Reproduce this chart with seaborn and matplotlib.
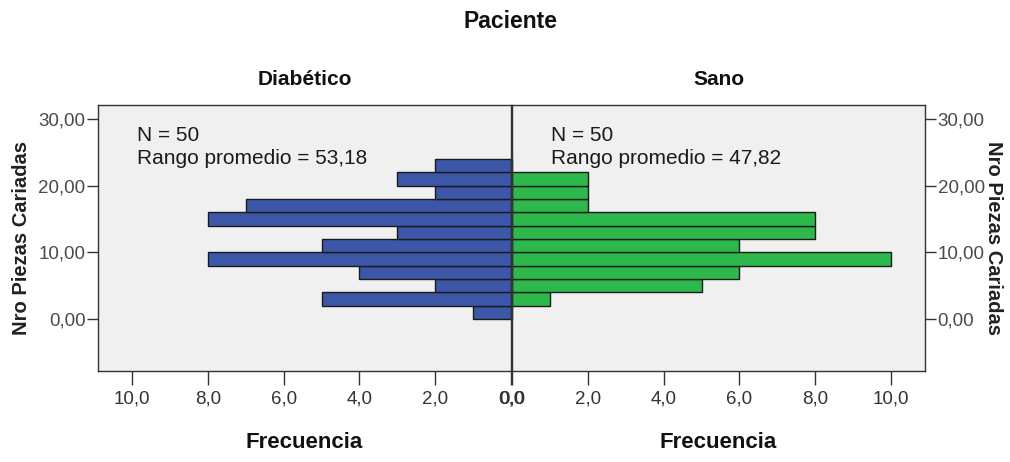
import numpy as np
import pandas as pd
import matplotlib
matplotlib.use("Agg")
import matplotlib.pyplot as plt
from matplotlib.ticker import FuncFormatter, FixedLocator
from matplotlib import font_manager
import seaborn as sns

# Histogram bins (lower edges, width 2) of "Nro Piezas Cariadas"
bin_lower = [0, 2, 4, 6, 8, 10, 12, 14, 16, 18, 20, 22]
diabetico_counts = [1, 5, 2, 4, 8, 5, 3, 8, 7, 2, 3, 2]
sano_counts = [0, 1, 5, 6, 10, 6, 8, 8, 2, 2, 2, 0]

groups = ["Diabético", "Sano"]
group_n = [50, 50]
rango_promedio = ["53,18", "47,82"]

x_ticks = [0, 2, 4, 6, 8, 10]
y_ticks = [0, 10, 20, 30]

sns.set_theme(style="white")
names = {f.name for f in font_manager.fontManager.ttflist}
narrow = "Liberation Sans Narrow" if "Liberation Sans Narrow" in names else "Liberation Sans"
plt.rcParams["font.family"] = ["Liberation Sans", "DejaVu Sans"]

BLUE = "#3c57a8"
GREEN = "#2db84b"
BG = "#f0f0f0"
EDGE = "#1a1a1a"

fig = plt.figure(figsize=(10.10, 4.62), dpi=100)
ax_l = fig.add_axes([0.097, 0.197, 0.409, 0.576])
ax_r = fig.add_axes([0.507, 0.197, 0.409, 0.576])

comma1 = FuncFormatter(lambda v, p: f"{v:.1f}".replace(".", ","))
comma2 = FuncFormatter(lambda v, p: f"{v:.2f}".replace(".", ","))

for ax, counts, color, name, n, rp in [
    (ax_l, diabetico_counts, BLUE, groups[0], group_n[0], rango_promedio[0]),
    (ax_r, sano_counts, GREEN, groups[1], group_n[1], rango_promedio[1]),
]:
    df = pd.DataFrame({"valor": np.array(bin_lower, dtype=float) + 1,
                       "frecuencia": counts})
    sns.histplot(data=df, y="valor", weights="frecuencia", binwidth=2,
                 binrange=(bin_lower[0], bin_lower[-1] + 2),
                 color=color, edgecolor=EDGE, linewidth=1.0, alpha=1.0, ax=ax)
    ax.set_facecolor(BG)
    ax.set_xlim(0, 10.9)
    ax.set_ylim(-7.8, 32.1)
    ax.xaxis.set_major_locator(FixedLocator(x_ticks))
    ax.yaxis.set_major_locator(FixedLocator(y_ticks))
    ax.xaxis.set_major_formatter(comma1)
    ax.yaxis.set_major_formatter(comma2)
    for s in ax.spines.values():
        s.set_color("#333333")
        s.set_linewidth(1.0)
    ax.tick_params(axis="x", which="major", direction="out", length=10, width=1,
                   color="#333333", pad=4, labelsize=13.5, labelcolor="#333333",
                   bottom=True)
    for lab in ax.get_xticklabels():
        lab.set_family(narrow)
    ax.set_xlabel("Frecuencia", fontsize=16, fontweight="bold", family=narrow,
                  color="#111111", labelpad=18)
    ax.set_ylabel("")
    ax.set_title(name, fontsize=15, fontweight="bold", family=narrow,
                 color="#111111", pad=14)
    ax.text(0.094, 0.92, f"N = {n}\nRango promedio = {rp}",
            transform=ax.transAxes, ha="left", va="top", fontsize=15,
            family=narrow, color="#1a1a1a", linespacing=1.25)

ax_l.invert_xaxis()
ax_l.tick_params(axis="y", direction="out", length=8, width=1, color="#333333",
                 left=True, right=False, labelleft=True, labelright=False,
                 labelsize=13.5, labelcolor="#4a4a4a", pad=1)
ax_r.tick_params(axis="y", direction="out", length=8, width=1, color="#333333",
                 left=False, right=True, labelleft=False, labelright=True,
                 labelsize=13.5, labelcolor="#4a4a4a", pad=1)

ax_l.set_ylabel("Nro Piezas Cariadas", fontsize=14.5, fontweight="bold",
                color="#222222", labelpad=5)
ax_r.yaxis.set_label_position("right")
ax_r.set_ylabel("Nro Piezas Cariadas", fontsize=14.5, fontweight="bold",
                color="#222222", rotation=270, labelpad=13)

fig.text(0.505, 0.953, "Paciente", ha="center", va="center", fontsize=16.5,
         fontweight="bold", family=narrow, color="#111111")

fig.savefig("out.png", dpi=100, facecolor="white")
